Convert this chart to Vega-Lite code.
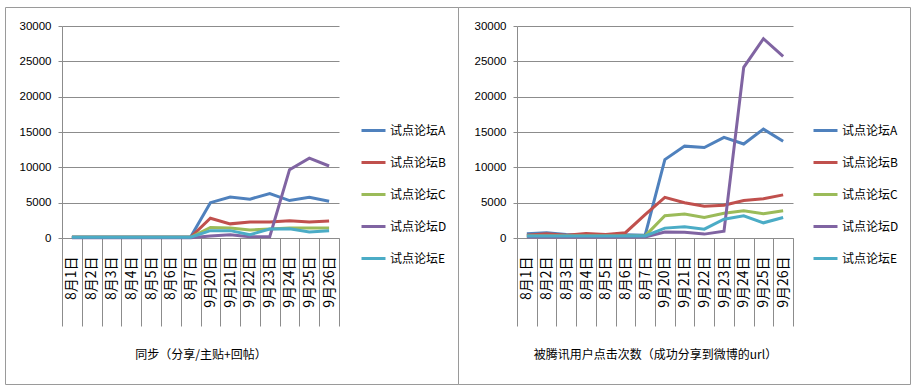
{
  "$schema": "https://vega.github.io/schema/vega-lite/v6.json",
  "background": "white",
  "padding": {"left": -3, "top": 6, "right": 2, "bottom": 4},
  "spacing": 0,
  "bounds": "flush",
  "datasets": {
    "sync": [
      {"d":"8月1日","s":"试点论坛A","v":150},{"d":"8月2日","s":"试点论坛A","v":150},{"d":"8月3日","s":"试点论坛A","v":150},{"d":"8月4日","s":"试点论坛A","v":150},{"d":"8月5日","s":"试点论坛A","v":150},{"d":"8月6日","s":"试点论坛A","v":150},{"d":"8月7日","s":"试点论坛A","v":150},
      {"d":"9月20日","s":"试点论坛A","v":5000},{"d":"9月21日","s":"试点论坛A","v":5800},{"d":"9月22日","s":"试点论坛A","v":5500},{"d":"9月23日","s":"试点论坛A","v":6300},{"d":"9月24日","s":"试点论坛A","v":5300},{"d":"9月25日","s":"试点论坛A","v":5750},{"d":"9月26日","s":"试点论坛A","v":5200},
      {"d":"8月1日","s":"试点论坛B","v":100},{"d":"8月2日","s":"试点论坛B","v":100},{"d":"8月3日","s":"试点论坛B","v":100},{"d":"8月4日","s":"试点论坛B","v":100},{"d":"8月5日","s":"试点论坛B","v":100},{"d":"8月6日","s":"试点论坛B","v":100},{"d":"8月7日","s":"试点论坛B","v":100},
      {"d":"9月20日","s":"试点论坛B","v":2800},{"d":"9月21日","s":"试点论坛B","v":2000},{"d":"9月22日","s":"试点论坛B","v":2250},{"d":"9月23日","s":"试点论坛B","v":2250},{"d":"9月24日","s":"试点论坛B","v":2450},{"d":"9月25日","s":"试点论坛B","v":2250},{"d":"9月26日","s":"试点论坛B","v":2400},
      {"d":"8月1日","s":"试点论坛C","v":100},{"d":"8月2日","s":"试点论坛C","v":100},{"d":"8月3日","s":"试点论坛C","v":100},{"d":"8月4日","s":"试点论坛C","v":100},{"d":"8月5日","s":"试点论坛C","v":100},{"d":"8月6日","s":"试点论坛C","v":100},{"d":"8月7日","s":"试点论坛C","v":100},
      {"d":"9月20日","s":"试点论坛C","v":1500},{"d":"9月21日","s":"试点论坛C","v":1400},{"d":"9月22日","s":"试点论坛C","v":1130},{"d":"9月23日","s":"试点论坛C","v":1270},{"d":"9月24日","s":"试点论坛C","v":1400},{"d":"9月25日","s":"试点论坛C","v":1400},{"d":"9月26日","s":"试点论坛C","v":1400},
      {"d":"8月1日","s":"试点论坛D","v":50},{"d":"8月2日","s":"试点论坛D","v":50},{"d":"8月3日","s":"试点论坛D","v":50},{"d":"8月4日","s":"试点论坛D","v":50},{"d":"8月5日","s":"试点论坛D","v":50},{"d":"8月6日","s":"试点论坛D","v":50},{"d":"8月7日","s":"试点论坛D","v":50},
      {"d":"9月20日","s":"试点论坛D","v":280},{"d":"9月21日","s":"试点论坛D","v":470},{"d":"9月22日","s":"试点论坛D","v":190},{"d":"9月23日","s":"试点论坛D","v":190},{"d":"9月24日","s":"试点论坛D","v":9670},{"d":"9月25日","s":"试点论坛D","v":11300},{"d":"9月26日","s":"试点论坛D","v":10190},
      {"d":"8月1日","s":"试点论坛E","v":100},{"d":"8月2日","s":"试点论坛E","v":100},{"d":"8月3日","s":"试点论坛E","v":100},{"d":"8月4日","s":"试点论坛E","v":100},{"d":"8月5日","s":"试点论坛E","v":100},{"d":"8月6日","s":"试点论坛E","v":100},{"d":"8月7日","s":"试点论坛E","v":100},
      {"d":"9月20日","s":"试点论坛E","v":1040},{"d":"9月21日","s":"试点论坛E","v":1040},{"d":"9月22日","s":"试点论坛E","v":470},{"d":"9月23日","s":"试点论坛E","v":1270},{"d":"9月24日","s":"试点论坛E","v":1300},{"d":"9月25日","s":"试点论坛E","v":850},{"d":"9月26日","s":"试点论坛E","v":1040}
    ],
    "click": [
      {"d":"8月1日","s":"试点论坛A","v":600},{"d":"8月2日","s":"试点论坛A","v":750},{"d":"8月3日","s":"试点论坛A","v":500},{"d":"8月4日","s":"试点论坛A","v":450},{"d":"8月5日","s":"试点论坛A","v":450},{"d":"8月6日","s":"试点论坛A","v":450},{"d":"8月7日","s":"试点论坛A","v":400},
      {"d":"9月20日","s":"试点论坛A","v":11100},{"d":"9月21日","s":"试点论坛A","v":13000},{"d":"9月22日","s":"试点论坛A","v":12800},{"d":"9月23日","s":"试点论坛A","v":14250},{"d":"9月24日","s":"试点论坛A","v":13300},{"d":"9月25日","s":"试点论坛A","v":15400},{"d":"9月26日","s":"试点论坛A","v":13700},
      {"d":"8月1日","s":"试点论坛B","v":400},{"d":"8月2日","s":"试点论坛B","v":600},{"d":"8月3日","s":"试点论坛B","v":400},{"d":"8月4日","s":"试点论坛B","v":650},{"d":"8月5日","s":"试点论坛B","v":500},{"d":"8月6日","s":"试点论坛B","v":750},{"d":"8月7日","s":"试点论坛B","v":3300},
      {"d":"9月20日","s":"试点论坛B","v":5750},{"d":"9月21日","s":"试点论坛B","v":5000},{"d":"9月22日","s":"试点论坛B","v":4500},{"d":"9月23日","s":"试点论坛B","v":4650},{"d":"9月24日","s":"试点论坛B","v":5300},{"d":"9月25日","s":"试点论坛B","v":5550},{"d":"9月26日","s":"试点论坛B","v":6100},
      {"d":"8月1日","s":"试点论坛C","v":300},{"d":"8月2日","s":"试点论坛C","v":300},{"d":"8月3日","s":"试点论坛C","v":300},{"d":"8月4日","s":"试点论坛C","v":300},{"d":"8月5日","s":"试点论坛C","v":300},{"d":"8月6日","s":"试点论坛C","v":300},{"d":"8月7日","s":"试点论坛C","v":300},
      {"d":"9月20日","s":"试点论坛C","v":3150},{"d":"9月21日","s":"试点论坛C","v":3400},{"d":"9月22日","s":"试点论坛C","v":2900},{"d":"9月23日","s":"试点论坛C","v":3500},{"d":"9月24日","s":"试点论坛C","v":3850},{"d":"9月25日","s":"试点论坛C","v":3450},{"d":"9月26日","s":"试点论坛C","v":3850},
      {"d":"8月1日","s":"试点论坛D","v":150},{"d":"8月2日","s":"试点论坛D","v":150},{"d":"8月3日","s":"试点论坛D","v":150},{"d":"8月4日","s":"试点论坛D","v":150},{"d":"8月5日","s":"试点论坛D","v":150},{"d":"8月6日","s":"试点论坛D","v":150},{"d":"8月7日","s":"试点论坛D","v":150},
      {"d":"9月20日","s":"试点论坛D","v":850},{"d":"9月21日","s":"试点论坛D","v":800},{"d":"9月22日","s":"试点论坛D","v":550},{"d":"9月23日","s":"试点论坛D","v":950},{"d":"9月24日","s":"试点论坛D","v":24150},{"d":"9月25日","s":"试点论坛D","v":28200},{"d":"9月26日","s":"试点论坛D","v":25700},
      {"d":"8月1日","s":"试点论坛E","v":300},{"d":"8月2日","s":"试点论坛E","v":300},{"d":"8月3日","s":"试点论坛E","v":300},{"d":"8月4日","s":"试点论坛E","v":300},{"d":"8月5日","s":"试点论坛E","v":300},{"d":"8月6日","s":"试点论坛E","v":300},{"d":"8月7日","s":"试点论坛E","v":300},
      {"d":"9月20日","s":"试点论坛E","v":1400},{"d":"9月21日","s":"试点论坛E","v":1600},{"d":"9月22日","s":"试点论坛E","v":1250},{"d":"9月23日","s":"试点论坛E","v":2650},{"d":"9月24日","s":"试点论坛E","v":3150},{"d":"9月25日","s":"试点论坛E","v":2150},{"d":"9月26日","s":"试点论坛E","v":2900}
    ]
  },
  "config": {
    "view": {"stroke": "#9a9a9a", "strokeWidth": 1},
    "axis": {
      "domainColor": "#8c8c8c", "tickColor": "#8c8c8c", "gridColor": "#8c8c8c",
      "labelColor": "#000000", "titleColor": "#000000", "minExtent": 0, "maxExtent": 0
    },
    "legend": {
      "title": null, "orient": "none", "symbolType": "stroke", "symbolStrokeWidth": 3, "symbolSize": 576,
      "labelFont": "Noto Sans CJK SC", "labelFontSize": 12, "labelColor": "#000000", "rowPadding": 12, "labelOffset": 3
    }
  },
  "resolve": {"scale": {"color": "independent", "x": "independent", "y": "independent"}, "legend": {"color": "independent"}},
  "hconcat": [
    {
      "width": 453, "height": 377,
      "data": {"name": "sync"},
      "mark": {"type": "line", "strokeWidth": 3},
      "encoding": {
        "x": {"field": "d", "type": "nominal",
          "sort": ["8月1日","8月2日","8月3日","8月4日","8月5日","8月6日","8月7日","9月20日","9月21日","9月22日","9月23日","9月24日","9月25日","9月26日"],
          "scale": {"type": "band", "range": [57, 334], "paddingInner": 0, "paddingOuter": 0},
          "axis": {"title": "同步（分享/主贴+回帖）", "offset": -146, "labelAngle": -90, "labelPadding": -70, "tickSize": 88, "tickBand": "extent",
            "labelFont": "Noto Sans CJK SC", "labelFontSize": 14, "grid": false,
            "titleFont": "Noto Sans CJK SC", "titleFontSize": 12, "titleFontWeight": "normal", "titleY": 116, "titleBaseline": "middle"}},
        "y": {"field": "v", "type": "quantitative",
          "scale": {"domain": [0, 30000], "range": [231, 19], "nice": false},
          "axis": {"title": null, "offset": -57, "values": [0,5000,10000,15000,20000,25000,30000], "format": "d", "ticks": true, "tickSize": 4, "labelPadding": 7,
            "labelFont": "Liberation Sans", "labelFontSize": 11.5, "grid": true}},
        "color": {"field": "s", "type": "nominal",
          "scale": {"domain": ["试点论坛A","试点论坛B","试点论坛C","试点论坛D","试点论坛E"], "range": ["#4F81BD","#C0504D","#9BBB59","#8064A2","#4BACC6"]},
          "legend": {"legendX": 355, "legendY": 110}}
      }
    },
    {
      "width": 452, "height": 377,
      "data": {"name": "click"},
      "mark": {"type": "line", "strokeWidth": 3},
      "encoding": {
        "x": {"field": "d", "type": "nominal",
          "sort": ["8月1日","8月2日","8月3日","8月4日","8月5日","8月6日","8月7日","9月20日","9月21日","9月22日","9月23日","9月24日","9月25日","9月26日"],
          "scale": {"type": "band", "range": [59, 335], "paddingInner": 0, "paddingOuter": 0},
          "axis": {"title": "被腾讯用户点击次数（成功分享到微博的url）", "offset": -146, "labelAngle": -90, "labelPadding": -70, "tickSize": 88, "tickBand": "extent",
            "labelFont": "Noto Sans CJK SC", "labelFontSize": 14, "grid": false,
            "titleFont": "Noto Sans CJK SC", "titleFontSize": 12, "titleFontWeight": "normal", "titleY": 116, "titleBaseline": "middle"}},
        "y": {"field": "v", "type": "quantitative",
          "scale": {"domain": [0, 30000], "range": [231, 19], "nice": false},
          "axis": {"title": null, "offset": -59, "values": [0,5000,10000,15000,20000,25000,30000], "format": "d", "ticks": true, "tickSize": 4, "labelPadding": 7,
            "labelFont": "Liberation Sans", "labelFontSize": 11.5, "grid": true}},
        "color": {"field": "s", "type": "nominal",
          "scale": {"domain": ["试点论坛A","试点论坛B","试点论坛C","试点论坛D","试点论坛E"], "range": ["#4F81BD","#C0504D","#9BBB59","#8064A2","#4BACC6"]},
          "legend": {"legendX": 354, "legendY": 110}}
      }
    }
  ]
}
